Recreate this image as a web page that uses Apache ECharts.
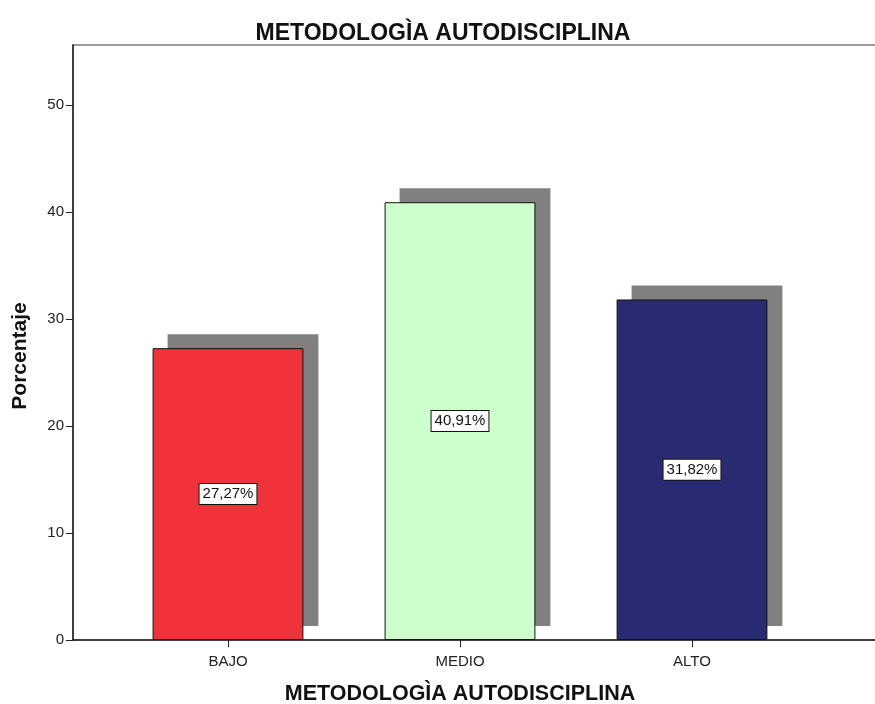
<!DOCTYPE html>
<html>
<head>
<meta charset="utf-8">
<script src="https://cdn.jsdelivr.net/npm/echarts@6/dist/echarts.min.js"></script>
<style>
  html, body { margin: 0; padding: 0; background: #fff; }
  #chart { width: 875px; height: 704px; }
</style>
</head>
<body>
<div id="chart"></div>
<script>
// Category labels and percentages per level
const categories = ['BAJO', 'MEDIO', 'ALTO'];
const percentages = [27.27, 40.91, 31.82];
const barColors = ['#f0333b', '#ccffcc', '#282a72'];
const yTicks = [0, 10, 20, 30, 40, 50];

const titleText = 'METODOLOGÌA AUTODISCIPLINA';
const yTitle = 'Porcentaje';
const font = 'Arial, "Liberation Sans", sans-serif';

const chart = echarts.init(document.getElementById('chart'), null, { renderer: 'canvas' });

const yMax = 55.6;
const plotTop = 45, plotHeight = 595;
const barsLeft = 112, barsWidth = 696;
// drop-shadow offset of the bars
const shX = 15, shY = -14;

chart.setOption({
  backgroundColor: '#ffffff',
  animation: false,
  title: {
    text: titleText,
    left: 438,
    textAlign: 'center',
    top: 17,
    textStyle: { fontFamily: font, fontSize: 23, fontWeight: 'bold', color: '#111' }
  },
  graphic: [{
    type: 'text',
    x: 20, y: 356,
    rotation: Math.PI / 2,
    style: {
      text: yTitle, align: 'center', verticalAlign: 'middle',
      font: 'bold 21px ' + font, fill: '#111'
    }
  }],
  grid: [
    // frame + value axis
    { left: 73, top: plotTop, width: 850, height: plotHeight, outerBoundsMode: 'none', containLabel: false,
      show: true, borderColor: '#7a7a7a', borderWidth: 1.5, backgroundColor: 'transparent' },
    // bar area
    { left: barsLeft, top: plotTop, width: barsWidth, height: plotHeight, outerBoundsMode: 'none', containLabel: false },
    // shadow area, shifted
    { left: barsLeft + shX, top: plotTop + shY, width: barsWidth, height: plotHeight, outerBoundsMode: 'none', containLabel: false }
  ],
  xAxis: [
    {
      gridIndex: 0, type: 'value', min: 0, max: 1,
      axisLine: { show: true, lineStyle: { color: '#222', width: 1.5 } },
      axisTick: { show: false }, axisLabel: { show: false }, splitLine: { show: false }
    },
    {
      gridIndex: 1, type: 'category', data: categories,
      axisLine: { show: false },
      axisTick: { show: true, alignWithLabel: true, length: 7, lineStyle: { color: '#222' } },
      axisLabel: { fontFamily: font, fontSize: 15, color: '#222', margin: 14 },
      name: titleText, nameLocation: 'middle', nameGap: 43,
      nameTextStyle: { fontFamily: font, fontSize: 21.5, fontWeight: 'bold', color: '#111' }
    },
    {
      gridIndex: 2, type: 'category', data: categories, show: false
    }
  ],
  yAxis: [
    {
      gridIndex: 0, type: 'value', min: 0, max: yMax, interval: 10,
      axisLine: { show: true, lineStyle: { color: '#222', width: 1.5 } },
      axisTick: { show: true, inside: false, length: 7, customValues: yTicks, lineStyle: { color: '#222' } },
      axisLabel: {
        fontFamily: font, fontSize: 15, color: '#222', margin: 9,
        customValues: yTicks
      },
      splitLine: { show: false }
    },
    { gridIndex: 1, type: 'value', min: 0, max: yMax, show: false },
    { gridIndex: 2, type: 'value', min: 0, max: yMax, show: false }
  ],
  series: [
    {
      // grey drop shadow behind each bar
      type: 'bar',
      xAxisIndex: 2,
      yAxisIndex: 2,
      barWidth: '65%',
      z: 1,
      silent: true,
      data: percentages,
      itemStyle: { color: '#808080' }
    },
    {
      type: 'bar',
      xAxisIndex: 1,
      yAxisIndex: 1,
      barWidth: '65%',
      z: 2,
      data: percentages.map((v, i) => ({
        value: v,
        itemStyle: { color: barColors[i] }
      })),
      itemStyle: { borderColor: '#111', borderWidth: 1 },
      label: {
        show: true,
        position: 'inside',
        formatter: p => p.value.toFixed(2).replace('.', ',') + '%',
        fontFamily: font,
        fontSize: 15,
        color: '#111',
        backgroundColor: '#ffffff',
        borderColor: '#111',
        borderWidth: 1,
        padding: [3, 3, 2, 3]
      }
    }
  ]
});
</script>
</body>
</html>
